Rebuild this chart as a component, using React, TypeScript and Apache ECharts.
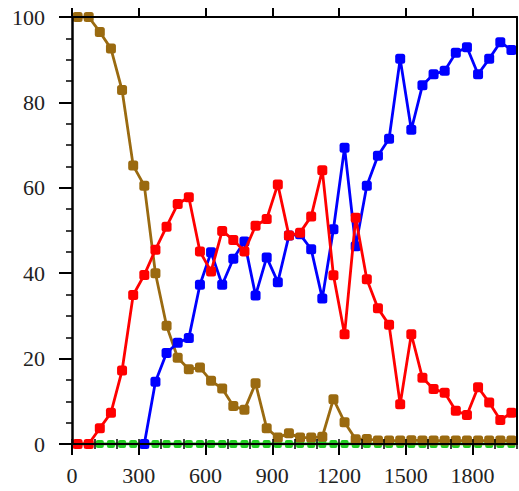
import React, { useEffect, useRef } from "react";
import * as echarts from "echarts";

const xValues = [25, 75, 125, 175, 225, 275, 325, 375, 425, 475, 525, 575, 625, 675, 725, 775, 825, 875, 925, 975,
  1025, 1075, 1125, 1175, 1225, 1275, 1325, 1375, 1425, 1475, 1525, 1575, 1625, 1675, 1725, 1775, 1825, 1875, 1925, 1975];

const redValues = [0, 0, 3.7, 7.3, 17.2, 34.9, 39.6, 45.5, 50.9, 56.2, 57.8, 45.1, 40.4, 49.9, 47.8, 45.1, 51.1, 52.7, 60.8, 48.8,
  49.5, 53.3, 64.1, 39.5, 25.7, 53, 38.6, 31.8, 27.9, 9.3, 25.7, 15.5, 12.9, 12, 7.8, 6.8, 13.3, 9.7, 5.6, 7.3];

const blueValues = [null, null, null, null, null, null, 0, 14.6, 21.3, 23.7, 24.8, 37.3, 44.9, 37.3, 43.4, 47.4, 34.8, 43.7, 37.9, 48.8,
  49.1, 45.6, 34.1, 50.3, 69.4, 46.3, 60.5, 67.5, 71.5, 90.2, 73.6, 84, 86.6, 87.4, 91.6, 92.9, 86.6, 90.2, 94.1, 92.3];

const brownValues = [100, 100, 96.5, 92.6, 82.9, 65.2, 60.5, 40, 27.7, 20.2, 17.5, 17.9, 14.8, 13, 8.9, 8, 14.2, 3.7, 1.5, 2.5,
  1.5, 1.5, 1.7, 10.5, 5.1, 1.1, 1.2, 0.8, 0.8, 0.8, 0.9, 0.8, 0.8, 0.8, 0.8, 0.8, 0.8, 0.8, 0.8, 0.8];

const greenValues = [0, 0, 0, 0, 0, 0, 0, 0, 0, 0, 0, 0, 0, 0, 0, 0, 0, 0, 0, 0,
  0, 0, 0, 0, 0, 0, 0, 0, 0, 0, 0, 0, 0, 0, 0, 0, 0, 0, 0, 0];

const xTickLabels = [0, 300, 600, 900, 1200, 1500, 1800];
const yTickLabels = [0, 20, 40, 60, 80, 100];

const FONT = "'Liberation Serif', 'Times New Roman', serif";

function pairs(vals: (number | null)[]) {
  return xValues.map((x, i) => [x, vals[i] === null ? "-" : vals[i]]);
}

export default function App() {
  const ref = useRef<HTMLDivElement>(null);
  useEffect(() => {
    if (!ref.current) return;
    const chart = echarts.init(ref.current, undefined, { renderer: "svg" });
    const axisLineStyle = { color: "#000", width: 2 };
    const lineSeries = (name: string, vals: (number | null)[], color: string, size: number, symbol: string, z: number) => ({
      name,
      type: "line",
      xAxisIndex: 0,
      yAxisIndex: 0,
      data: pairs(vals),
      symbol,
      symbolSize: size,
      lineStyle: { color, width: 2.8 },
      itemStyle: { color },
      z,
    });
    chart.setOption({
      animation: false,
      backgroundColor: "#fff",
      grid: { left: 72, right: 2, top: 17, bottom: 47, containLabel: false, outerBoundsMode: "none" },
      xAxis: [
        {
          type: "value", position: "bottom", min: 0, max: 2000, interval: 300, z: 10,
          axisLine: { show: true, onZero: false, lineStyle: axisLineStyle },
          axisTick: { show: true, length: 11, lineStyle: { color: "#000", width: 2 }, customValues: xTickLabels },
          axisLabel: {
            show: true, margin: 20, fontFamily: FONT, fontSize: 22, color: "#222",
            customValues: xTickLabels, formatter: (v: number) => String(v),
          },
          splitLine: { show: false },
        },
        {
          type: "value", position: "bottom", min: 0, max: 2000, interval: 100, z: 10,
          axisLine: { show: false },
          axisTick: { show: true, length: 5, lineStyle: { color: "#000", width: 1.5 } },
          axisLabel: { show: false },
          splitLine: { show: false },
        },
        {
          type: "value", position: "top", min: 0, max: 2000, interval: 300, z: 10,
          axisLine: { show: true, onZero: false, lineStyle: axisLineStyle },
          axisTick: { show: true, length: 9, lineStyle: { color: "#000", width: 2 }, customValues: xTickLabels },
          axisLabel: { show: false },
          splitLine: { show: false },
        },
        {
          type: "value", position: "top", min: 0, max: 2000, interval: 100, z: 10,
          axisLine: { show: false },
          axisTick: { show: true, length: 5, lineStyle: { color: "#000", width: 1.5 } },
          axisLabel: { show: false },
          splitLine: { show: false },
        },
      ],
      yAxis: [
        {
          type: "value", position: "left", min: 0, max: 100, interval: 20, z: 10,
          axisLine: { show: true, onZero: false, lineStyle: { color: "#000", width: 2.5 } },
          axisTick: { show: true, length: 13, lineStyle: { color: "#000", width: 2 } },
          minorTick: { show: true, splitNumber: 4, length: 6, lineStyle: { color: "#000", width: 1.5 } },
          axisLabel: {
            show: true, margin: 27, fontFamily: FONT, fontSize: 22, color: "#222",
            customValues: yTickLabels, formatter: (v: number) => String(v),
          },
          splitLine: { show: false },
        },
        {
          type: "value", position: "right", min: 0, max: 100, interval: 20, z: 10,
          axisLine: { show: true, onZero: false, lineStyle: axisLineStyle },
          axisTick: { show: false },
          axisLabel: { show: false },
          splitLine: { show: false },
        },
      ],
      series: [
        lineSeries("green", greenValues, "#22cc22", 8, "roundRect", 2),
        lineSeries("brown", brownValues, "#9a6a10", 10, "roundRect", 3),
        lineSeries("blue", blueValues, "#0000ff", 10, "roundRect", 4),
        lineSeries("red", redValues, "#ff0000", 10, "roundRect", 5),
      ],
    });
    return () => chart.dispose();
  }, []);
  return <div ref={ref} style={{ position: "fixed", left: 0, top: 0, width: 519, height: 491 }} />;
}
